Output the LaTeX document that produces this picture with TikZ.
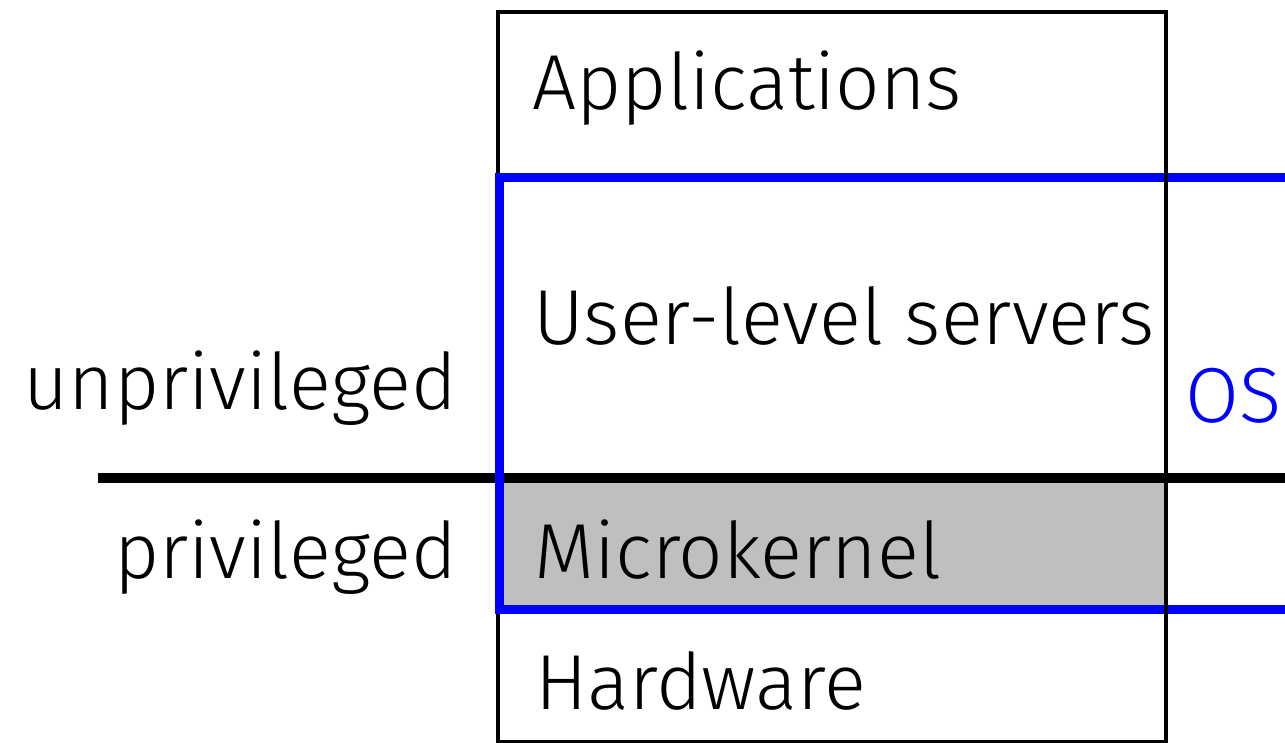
\documentclass[tikz,border=0pt]{standalone}
\usepackage{fontspec}
\setmainfont{Fira Sans Light}
\begin{document}
\begin{tikzpicture}[x=0.5pt,y=-0.5pt,
  lbl/.style={inner sep=0pt, font=\fontsize{39pt}{47pt}\selectfont},
  layerbox/.style={draw=black, line width=1.9pt},
  oszone/.style={draw=blue, line width=4.5pt},
  ringline/.style={draw=black, line width=5pt}]
\useasboundingbox (0,0) rectangle (1285,743);
\clip (0,0) rectangle (1285,743);
% privileged layer shading
\fill[gray!50] (498,478) rectangle (1166,609);
% boundary between privilege levels
\coordinate (sepL) at (98,478);
\coordinate (sepR) at (1300,478);
\draw[ringline] (sepL) -- (sepR);
% the layer stack
\draw[layerbox] (498,12) rectangle (1166,742);
% extent of the operating system
\draw[oszone] (499,178) rectangle (1320,609);
\draw[layerbox] (1166,12) -- (1166,742);
% labels
\node[lbl, anchor=base west] (apps) at (532,110) {Applications};
\node[lbl, anchor=base west] (servers) at (533,344) {User-level servers};
\node[lbl, anchor=base west] (ukernel) at (534,578) {Microkernel};
\node[lbl, anchor=base west] (hw) at (535,709) {Hardware};
\node[lbl, anchor=base east] (unpriv) at (457,409) {unprivileged};
\node[lbl, anchor=base east] (priv) at (457,578) {privileged};
\node[lbl, anchor=base west, text=blue] (os) at (1185,422) {OS};
\end{tikzpicture}
\end{document}
